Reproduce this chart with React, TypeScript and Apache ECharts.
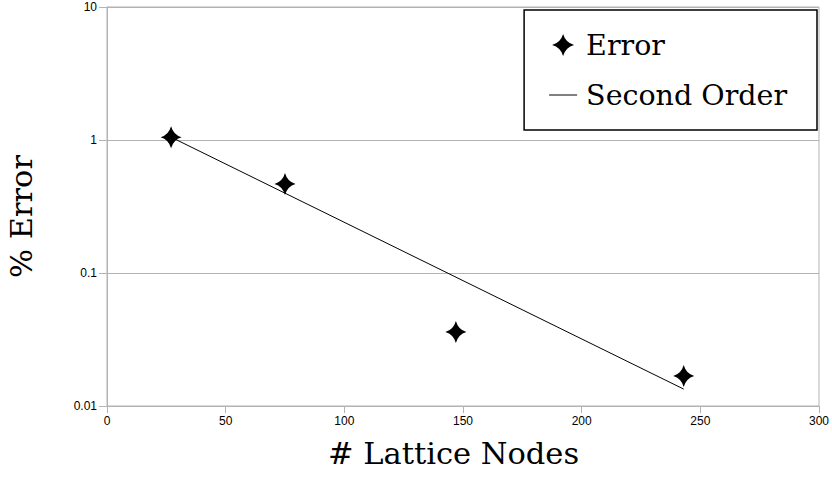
import React, { useEffect, useRef } from "react";
import * as echarts from "echarts";

// Measured error against lattice size
const latticeNodes = [27, 75, 147, 243];
const percentError = [1.05, 0.467, 0.036, 0.0168];

// Reference second-order slope, drawn between its two end points
const secondOrderNodes = [27, 243];
const secondOrderError = [1.05, 0.0134];

const xTicks = [0, 50, 100, 150, 200, 250, 300];
const yTickLabels = ["0.01", "0.1", "1", "10"];

const SERIES_ERROR = "Error";
const SERIES_ORDER = "Second Order";
const X_TITLE = "# Lattice Nodes";
const Y_TITLE = "% Error";

// Four-pointed star marker
const STAR =
  "path://M0,-10 Q2.2,-2.2 10,0 Q2.2,2.2 0,10 Q-2.2,2.2 -10,0 Q-2.2,-2.2 0,-10 Z";
// Thin dash for the line entry; the two moves pin the icon box to 32x22
const DASH = "path://M0,0 M32,22 M2,10.5 L30,10.5 L30,11.5 L2,11.5 Z";

export default function App() {
  const ref = useRef<HTMLDivElement>(null);

  useEffect(() => {
    if (!ref.current) return;
    const chart = echarts.init(ref.current, null, { renderer: "svg" });
    const tickFont = {
      fontFamily: "Liberation Sans",
      fontSize: 12,
      color: "#000",
    };
    const serif = "DejaVu Serif";

    chart.setOption({
      animation: false,
      backgroundColor: "#fff",
      grid: {
        left: 107,
        right: 10,
        top: 7,
        bottom: 78,
        show: true,
        borderColor: "#b3b3b3",
        borderWidth: 1,
      },
      xAxis: {
        type: "value",
        min: xTicks[0],
        max: xTicks[xTicks.length - 1],
        interval: xTicks[1] - xTicks[0],
        axisLine: { show: true, lineStyle: { color: "#b3b3b3", width: 1 } },
        axisTick: { show: true, length: 7, lineStyle: { color: "#b3b3b3" } },
        axisLabel: { ...tickFont, margin: 9 },
        splitLine: { show: false },
      },
      yAxis: {
        type: "log",
        logBase: 10,
        min: Number(yTickLabels[0]),
        max: Number(yTickLabels[yTickLabels.length - 1]),
        axisLine: { show: true, lineStyle: { color: "#b3b3b3", width: 1 } },
        axisTick: { show: true, length: 8, lineStyle: { color: "#b3b3b3" } },
        axisLabel: {
          ...tickFont,
          margin: 10,
          showMaxLabel: true,
          showMinLabel: true,
          formatter: (v: number) => {
            const hit = yTickLabels.find((t) => Math.abs(Number(t) - v) < v * 1e-6);
            return hit ?? String(v);
          },
        },
        splitLine: { show: true, lineStyle: { color: "#b3b3b3", width: 1 } },
        minorTick: { show: false },
      },
      legend: {
        orient: "vertical",
        right: 15,
        top: 10,
        padding: [17, 30, 17, 23],
        borderColor: "#000",
        borderWidth: 1.5,
        backgroundColor: "#fff",
        itemWidth: 32,
        itemHeight: 22,
        itemGap: 14,
        textStyle: {
          fontFamily: serif,
          fontSize: 28.5,
          color: "#000",
          lineHeight: 36,
          padding: [0, 0, 0, 2],
        },
        data: [
          { name: SERIES_ERROR, icon: STAR, itemStyle: { color: "#000", opacity: 1 } },
          { name: SERIES_ORDER, icon: DASH, itemStyle: { color: "#000", opacity: 1 } },
        ],
      },
      series: [
        {
          name: SERIES_ORDER,
          type: "line",
          symbol: "none",
          data: secondOrderNodes.map((x, i) => [x, secondOrderError[i]]),
          lineStyle: { color: "#000", width: 1 },
          itemStyle: { color: "#000" },
          z: 2,
        },
        {
          name: SERIES_ERROR,
          type: "scatter",
          symbol: STAR,
          symbolSize: [21, 22],
          data: latticeNodes.map((x, i) => [x, percentError[i]]),
          itemStyle: { color: "#000", opacity: 1 },
          z: 3,
        },
      ],
      graphic: [
        {
          type: "text",
          left: 328,
          top: 438,
          style: {
            text: X_TITLE,
            fontFamily: serif,
            fontSize: 30.5,
            fill: "#000",
          },
        },
        {
          type: "text",
          x: 6,
          y: 278,
          rotation: Math.PI / 2,
          style: {
            text: Y_TITLE,
            fontFamily: serif,
            fontSize: 30.5,
            fill: "#000",
          },
        },
      ],
    });

    return () => chart.dispose();
  }, []);

  return (
    <div
      ref={ref}
      style={{ position: "absolute", left: 0, top: 0, width: 832, height: 484 }}
    />
  );
}
